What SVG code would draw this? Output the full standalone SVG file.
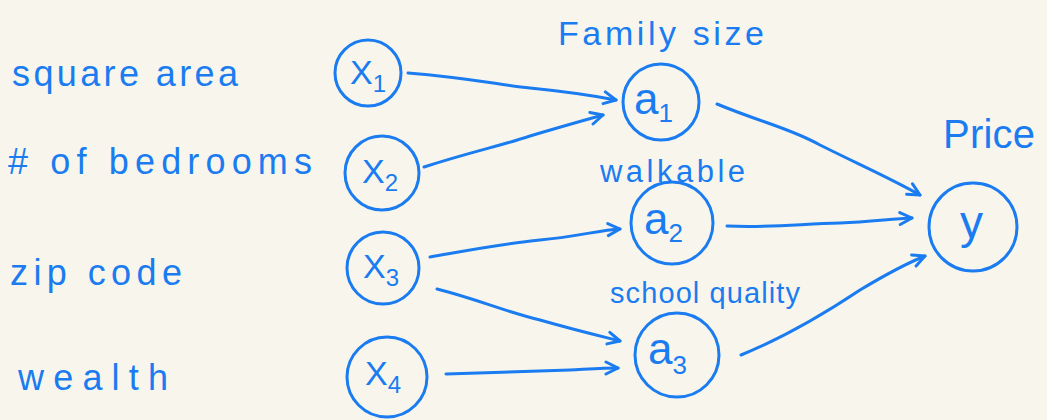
<svg xmlns="http://www.w3.org/2000/svg" width="1047" height="420" viewBox="0 0 1047 420">
<style>
.bg{fill:#f8f6ec}
.node circle{fill:none;stroke:#1a7cf0;stroke-width:3}
.lbl{fill:#1a7cf0;font-family:"Liberation Sans","DejaVu Sans",sans-serif}
.conn path{fill:none;stroke:#1a7cf0;stroke-width:3;stroke-linecap:round;stroke-linejoin:round}
</style>
<defs>
<marker id="arr" viewBox="0 0 16 16" refX="14" refY="8" markerWidth="16" markerHeight="16" markerUnits="userSpaceOnUse" orient="auto">
<path d="M2,2 L14,8 L2,14" fill="none" stroke="#1a7cf0" stroke-width="3" stroke-linecap="round" stroke-linejoin="round"/>
</marker>
</defs>
<rect class="bg" x="0" y="0" width="1047" height="420"/>

<g id="feature-labels" class="lbl">
<text x="12" y="86" font-size="36" textLength="226" lengthAdjust="spacing">square area</text>
<text x="8" y="174" font-size="36" textLength="304" lengthAdjust="spacing"># of bedrooms</text>
<text x="10" y="285" font-size="36" textLength="172" lengthAdjust="spacing">zip code</text>
<text x="18" y="390" font-size="36" textLength="150" lengthAdjust="spacing">wealth</text>
</g>

<g id="hidden-labels" class="lbl">
<text x="558" y="45" font-size="34" textLength="206" lengthAdjust="spacing">Family size</text>
<text x="600" y="182" font-size="31" textLength="145" lengthAdjust="spacing">walkable</text>
<text x="610" y="303" font-size="29" textLength="190" lengthAdjust="spacing">school quality</text>
<text x="943" y="148" font-size="40" textLength="92" lengthAdjust="spacing">Price</text>
</g>

<g id="x1" class="node"><circle cx="368" cy="73" r="33"/><text class="lbl" x="350" y="84" font-size="34">X<tspan font-size="24" dy="8">1</tspan></text></g>
<g id="x2" class="node"><circle cx="382" cy="173" r="37"/><text class="lbl" x="362" y="183" font-size="34">X<tspan font-size="24" dy="8">2</tspan></text></g>
<g id="x3" class="node"><circle cx="383" cy="268" r="36"/><text class="lbl" x="363" y="278" font-size="34">X<tspan font-size="24" dy="8">3</tspan></text></g>
<g id="x4" class="node"><circle cx="387" cy="377" r="40"/><text class="lbl" x="365" y="385" font-size="34">X<tspan font-size="24" dy="8">4</tspan></text></g>

<g id="a1" class="node"><circle cx="661" cy="102" r="38"/><text class="lbl" x="634" y="114" font-size="44">a<tspan font-size="26" dy="8">1</tspan></text></g>
<g id="a2" class="node"><circle cx="672" cy="223" r="41"/><text class="lbl" x="644" y="234" font-size="44">a<tspan font-size="26" dy="8">2</tspan></text></g>
<g id="a3" class="node"><circle cx="677" cy="355" r="42"/><text class="lbl" x="648" y="364" font-size="44">a<tspan font-size="26" dy="10">3</tspan></text></g>

<g id="y" class="node"><circle cx="973" cy="227" r="44"/><text class="lbl" x="960" y="238" font-size="46">y</text></g>

<g id="connectors" class="conn">
<path d="M408,73 C470,78 500,85 530,88 C570,92 590,95 616,100" marker-end="url(#arr)"/>
<path d="M424,167 C470,152 500,146 530,136 C560,127 585,120 603,115" marker-end="url(#arr)"/>
<path d="M430,257 C470,250 500,244 540,240 C575,237 600,230 620,229" marker-end="url(#arr)"/>
<path d="M437,289 C480,300 500,310 540,320 C575,330 600,336 620,341" marker-end="url(#arr)"/>
<path d="M446,374 C500,372 540,371 570,370 C590,369 605,368 618,368" marker-end="url(#arr)"/>
<path d="M717,104 C760,122 790,128 820,145 C860,165 890,178 920,195" marker-end="url(#arr)"/>
<path d="M727,226 C770,228 800,224 840,223 C870,222 890,219 912,218" marker-end="url(#arr)"/>
<path d="M741,355 C790,335 830,310 860,290 C885,275 905,264 925,256" marker-end="url(#arr)"/>
</g>
</svg>
